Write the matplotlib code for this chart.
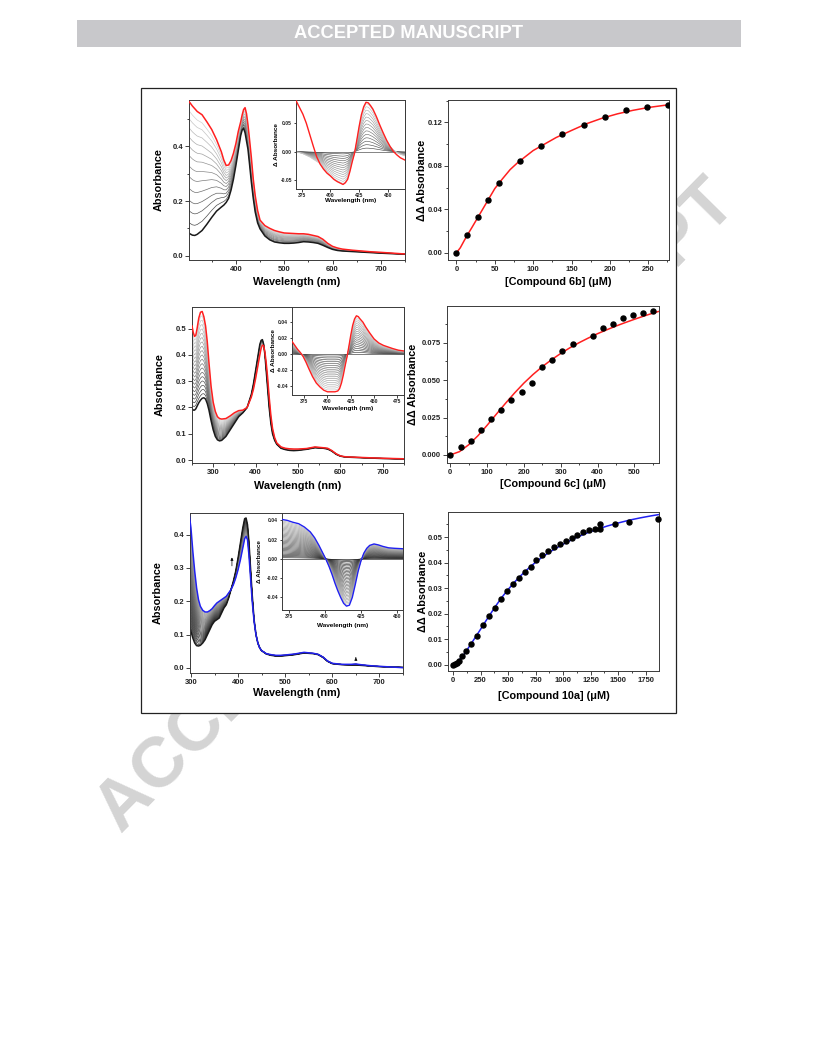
import numpy as np
import matplotlib
matplotlib.use("Agg")
import matplotlib.pyplot as plt
from matplotlib.ticker import MultipleLocator, FormatStrFormatter
from matplotlib.patches import Rectangle

# ---------------- data ----------------
# Panel A: compound 6b spectra (300-750 nm)
wl_6b = [300, 305, 310, 315, 320, 330, 340, 350, 360, 370, 375, 380, 385, 390, 395, 400, 405,
         410, 413, 416, 419, 422, 425, 428, 432, 436, 440, 445, 450, 460, 470, 480, 490, 500,
         510, 520, 530, 540, 550, 560, 570, 580, 590, 600, 610, 620, 640, 660, 680, 700, 725, 750]
abs_6b_start = [0.085, 0.080, 0.075, 0.074, 0.078, 0.092, 0.115, 0.140, 0.163, 0.178, 0.185, 0.195,
                0.21, 0.24, 0.28, 0.33, 0.385, 0.44, 0.46, 0.466, 0.45, 0.42, 0.39, 0.34, 0.27, 0.21,
                0.16, 0.12, 0.098, 0.072, 0.058, 0.050, 0.047, 0.045, 0.045, 0.046, 0.048, 0.051,
                0.050, 0.048, 0.045, 0.038, 0.030, 0.023, 0.019, 0.017, 0.015, 0.013, 0.011, 0.009,
                0.007, 0.005]
abs_6b_end = [0.57, 0.56, 0.548, 0.538, 0.528, 0.516, 0.49, 0.462, 0.425, 0.38, 0.35, 0.33, 0.332,
              0.348, 0.375, 0.41, 0.455, 0.49, 0.515, 0.535, 0.542, 0.52, 0.48, 0.43, 0.36, 0.28,
              0.22, 0.165, 0.13, 0.11, 0.10, 0.092, 0.087, 0.083, 0.082, 0.081, 0.080, 0.080, 0.078,
              0.074, 0.070, 0.060, 0.045, 0.034, 0.028, 0.024, 0.020, 0.017, 0.014, 0.012, 0.009, 0.006]
frac_6b = [0.08, 0.17, 0.25, 0.34, 0.43, 0.51, 0.59, 0.66, 0.73, 0.80, 0.87, 0.93]

# Inset A: difference spectra 6b
wl_d6b = [370, 373, 376, 379, 382, 385, 388, 391, 394, 397, 400, 403, 406, 409, 411, 413, 415, 417,
          419, 421, 423, 425, 427, 429, 431, 433, 435, 437, 440, 443, 446, 449, 452, 455, 458, 461, 465]
dabs_6b_end = [0.09, 0.078, 0.066, 0.05, 0.03, 0.01, -0.009, -0.022, -0.031, -0.038, -0.043, -0.049,
               -0.053, -0.056, -0.058, -0.055, -0.049, -0.035, -0.018, -0.003, 0.02, 0.044, 0.065,
               0.079, 0.087, 0.086, 0.081, 0.075, 0.062, 0.047, 0.033, 0.02, 0.009, 0.0, -0.006,
               -0.011, -0.015]
dabs_6b_gray = [-0.001, -0.002, -0.004, -0.007, -0.010, -0.014, -0.018, -0.022, -0.031, -0.038,
                -0.043, -0.049, -0.053, -0.056, -0.058, -0.055, -0.049, -0.035, -0.018, -0.003, 0.02,
                0.044, 0.065, 0.079, 0.087, 0.086, 0.081, 0.075, 0.062, 0.047, 0.033, 0.02, 0.01,
                0.003, -0.002, -0.005, -0.008]
dfrac_6b = [0.0, 0.07, 0.14, 0.21, 0.28, 0.35, 0.42, 0.49, 0.56, 0.63, 0.70, 0.77, 0.84, 0.91, 0.97]

# Panel B: titration 6b
conc_6b = [0, 13.8, 27.6, 41.4, 55.2, 82.8, 110.4, 138, 165.6, 193.2, 220.8, 248.4, 276]
ddA_6b = [0.0, 0.016, 0.0326, 0.0485, 0.0638, 0.0847, 0.098, 0.109, 0.1178, 0.1246, 0.1317, 0.1344, 0.1357]
fit_6b_x = [0, 5, 10, 15, 20, 30, 40, 50, 60, 70, 80, 90, 100, 115, 130, 150, 170, 190, 210, 230, 250, 270, 280]
fit_6b_y = [0.0, 0.0045, 0.011, 0.0172, 0.023, 0.035, 0.047, 0.059, 0.068, 0.0765, 0.083, 0.0885,
            0.094, 0.100, 0.106, 0.1125, 0.1188, 0.1238, 0.1278, 0.131, 0.1336, 0.1355, 0.1364]

# Panel C: compound 6c spectra (250-750 nm)
wl_6c = [250, 253, 256, 259, 262, 266, 270, 274, 278, 282, 286, 290, 295, 300, 305, 310, 315, 320,
         330, 340, 350, 360, 370, 380, 390, 395, 400, 405, 410, 413, 416, 419, 422, 425, 428, 432,
         436, 440, 445, 450, 460, 470, 480, 490, 500, 520, 540, 560, 570, 580, 590, 600, 610, 620,
         650, 700, 750]
abs_6c_start = [0.195, 0.19, 0.19, 0.195, 0.205, 0.218, 0.228, 0.235, 0.237, 0.232, 0.215, 0.19,
                0.15, 0.115, 0.09, 0.077, 0.073, 0.075, 0.09, 0.115, 0.14, 0.165, 0.18, 0.2, 0.25,
                0.29, 0.34, 0.39, 0.44, 0.455, 0.458, 0.44, 0.40, 0.34, 0.28, 0.20, 0.14, 0.10,
                0.075, 0.06, 0.045, 0.04, 0.037, 0.036, 0.037, 0.041, 0.047, 0.045, 0.042, 0.034,
                0.022, 0.015, 0.012, 0.011, 0.009, 0.006, 0.004]
abs_6c_end = [0.51, 0.485, 0.47, 0.475, 0.50, 0.54, 0.562, 0.565, 0.545, 0.51, 0.45, 0.37, 0.28,
              0.22, 0.185, 0.165, 0.158, 0.156, 0.158, 0.168, 0.18, 0.188, 0.19, 0.2, 0.24, 0.27,
              0.31, 0.355, 0.40, 0.425, 0.437, 0.435, 0.41, 0.37, 0.32, 0.24, 0.17, 0.12, 0.085,
              0.065, 0.05, 0.045, 0.043, 0.042, 0.042, 0.044, 0.05, 0.047, 0.045, 0.036, 0.024,
              0.016, 0.013, 0.012, 0.010, 0.007, 0.005]
frac_6c = [0.05, 0.10, 0.15, 0.20, 0.25, 0.30, 0.35, 0.40, 0.45, 0.50, 0.55, 0.60, 0.65, 0.70,
           0.75, 0.80, 0.85, 0.90, 0.95]

# Inset C: difference spectra 6c
wl_d6c = [362, 365, 368, 371, 374, 377, 380, 384, 388, 392, 396, 400, 404, 408, 411, 413, 415, 417,
          419, 421, 423, 425, 427, 429, 431, 433, 435, 438, 441, 445, 450, 455, 460, 465, 470, 476, 482]
dabs_6c_end = [0.016, 0.011, 0.006, 0.002, -0.003, -0.01, -0.018, -0.028, -0.036, -0.041, -0.045,
               -0.047, -0.047, -0.047, -0.046, -0.043, -0.036, -0.026, -0.014, -0.003, 0.01, 0.024,
               0.036, 0.044, 0.048, 0.047, 0.044, 0.04, 0.034, 0.027, 0.019, 0.014, 0.011, 0.009,
               0.007, 0.005, 0.004]
dfrac_6c = [0.0, 0.05, 0.10, 0.15, 0.20, 0.25, 0.30, 0.35, 0.40, 0.45, 0.50, 0.55, 0.60, 0.65,
            0.70, 0.75, 0.80, 0.85, 0.90, 0.95]

# Panel D: titration 6c
conc_6c = [0, 28, 55, 83, 111, 138, 166, 194, 221, 249, 277, 304, 332, 387, 414, 442, 469, 497, 524, 551]
ddA_6c = [0.0, 0.0054, 0.0094, 0.0166, 0.0238, 0.0301, 0.0368, 0.0422, 0.0478, 0.0586, 0.0636,
          0.0696, 0.0739, 0.0795, 0.0849, 0.0874, 0.0914, 0.0932, 0.0948, 0.0961]
fit_6c_x = [0, 25, 50, 75, 100, 125, 150, 175, 200, 225, 250, 275, 300, 325, 350, 375, 400, 425,
            450, 475, 500, 525, 550, 565]
fit_6c_y = [0.0, 0.0022, 0.0068, 0.0128, 0.0198, 0.0272, 0.0345, 0.0415, 0.048, 0.0538, 0.059,
            0.0636, 0.0678, 0.0716, 0.075, 0.0781, 0.081, 0.0836, 0.0861, 0.0884, 0.0906, 0.0927,
            0.0947, 0.0958]

# Panel E: compound 10a spectra (300-750 nm)
wl_10a = [296, 300, 304, 308, 312, 316, 320, 325, 330, 335, 340, 345, 350, 355, 360, 365, 370, 375,
          380, 385, 390, 395, 400, 405, 410, 414, 417, 420, 423, 426, 430, 434, 438, 442, 446, 450,
          460, 470, 480, 490, 500, 520, 540, 560, 570, 580, 590, 600, 620, 640, 650, 660, 680, 700,
          725, 750]
abs_10a_start = [0.13, 0.11, 0.09, 0.075, 0.067, 0.066, 0.068, 0.075, 0.085, 0.10, 0.115, 0.13,
                 0.14, 0.145, 0.15, 0.165, 0.18, 0.19, 0.21, 0.235, 0.26, 0.29, 0.33, 0.375, 0.42,
                 0.448, 0.45, 0.43, 0.38, 0.31, 0.22, 0.145, 0.10, 0.075, 0.06, 0.052, 0.042, 0.038,
                 0.036, 0.036, 0.037, 0.040, 0.045, 0.043, 0.040, 0.032, 0.020, 0.013, 0.010, 0.009,
                 0.009, 0.008, 0.006, 0.004, 0.003, 0.002]
abs_10a_end = [0.465, 0.42, 0.35, 0.29, 0.24, 0.205, 0.185, 0.173, 0.168, 0.168, 0.172, 0.178,
               0.187, 0.195, 0.20, 0.205, 0.21, 0.215, 0.225, 0.235, 0.25, 0.27, 0.295, 0.325,
               0.36, 0.388, 0.395, 0.385, 0.34, 0.28, 0.20, 0.14, 0.10, 0.075, 0.06, 0.052, 0.043,
               0.040, 0.038, 0.038, 0.039, 0.042, 0.047, 0.044, 0.041, 0.033, 0.021, 0.014, 0.011,
               0.011, 0.012, 0.010, 0.007, 0.005, 0.003, 0.001]
frac_10a = [0.03, 0.06, 0.09, 0.12, 0.15, 0.18, 0.21, 0.24, 0.27, 0.30, 0.33, 0.36, 0.39, 0.42,
            0.45, 0.48, 0.51, 0.54, 0.57, 0.60, 0.63, 0.66, 0.69, 0.72, 0.75, 0.78, 0.81, 0.84,
            0.87, 0.90, 0.93, 0.96]

# Inset E: difference spectra 10a
wl_d10a = [370, 374, 378, 382, 386, 390, 393, 396, 399, 401, 403, 405, 407, 409, 411, 413, 415, 417,
           419, 421, 423, 425, 427, 429, 431, 434, 437, 440, 444, 448, 454]
dabs_10a_end = [0.041, 0.04, 0.038, 0.0365, 0.033, 0.028, 0.022, 0.014, 0.005, -0.001, -0.008,
                -0.016, -0.025, -0.033, -0.04, -0.046, -0.049, -0.048, -0.04, -0.027, -0.013,
                -0.002, 0.006, 0.011, 0.014, 0.0155, 0.0145, 0.013, 0.0115, 0.011, 0.0105]
dfrac_10a = [0.0, 0.03, 0.06, 0.09, 0.12, 0.15, 0.18, 0.21, 0.24, 0.27, 0.30, 0.33, 0.36, 0.39,
             0.42, 0.45, 0.48, 0.51, 0.54, 0.57, 0.60, 0.63, 0.66, 0.69, 0.72, 0.75, 0.78, 0.81,
             0.84, 0.87, 0.90, 0.93, 0.96]

# Panel F: titration 10a
conc_10a = [0, 18, 36, 57, 81, 114, 165, 222, 276, 330, 384, 437, 491, 545, 599, 653, 707, 755,
            809, 863, 917, 971, 1025, 1079, 1130, 1181, 1235, 1286, 1339, 1339, 1468, 1594, 1858]
ddA_10a = [0.0, 0.0003, 0.0008, 0.0015, 0.0035, 0.0054, 0.0079, 0.0113, 0.0155, 0.0189, 0.022,
           0.0256, 0.0289, 0.0316, 0.034, 0.0364, 0.0383, 0.0408, 0.043, 0.0444, 0.0459, 0.0472,
           0.0483, 0.0496, 0.0509, 0.052, 0.0529, 0.0533, 0.0551, 0.0533, 0.0551, 0.0559, 0.057]
fit_10a_x = [0, 50, 100, 150, 200, 250, 300, 350, 400, 450, 500, 550, 600, 650, 700, 750, 800, 850,
             900, 1000, 1100, 1200, 1300, 1400, 1500, 1600, 1700, 1800, 1870]
fit_10a_y = [0.0, 0.0015, 0.004, 0.0072, 0.0105, 0.0138, 0.0172, 0.0205, 0.0237, 0.0267, 0.0294,
             0.0319, 0.0342, 0.0363, 0.0383, 0.0401, 0.0418, 0.0433, 0.0447, 0.0472, 0.0494,
             0.0513, 0.0529, 0.0543, 0.0555, 0.0566, 0.0575, 0.0583, 0.0588]

# ---------------- figure ----------------
W, H = 816, 1056
fig = plt.figure(figsize=(W / 100, H / 100), dpi=100)
plt.rcParams['font.family'] = ['Liberation Sans', 'DejaVu Sans']
plt.rcParams['font.weight'] = 'bold'
plt.rcParams['axes.linewidth'] = 0.7

SANS = ['Liberation Sans', 'DejaVu Sans']
RED = '#ff1f1f'
BLUE = '#2020f0'
BLK = '#1a1a1a'


def rect(l, t, r, b):
    return [l / W, 1 - b / H, (r - l) / W, (b - t) / H]


# header bar
fig.patches.append(Rectangle((77 / W, 1 - 47 / H), (741 - 77) / W, 27 / H,
                             transform=fig.transFigure, facecolor='#c8c8cb',
                             edgecolor='none', zorder=-1))
fig.text(409 / W, 1 - 34 / H, 'ACCEPTED MANUSCRIPT', color='white', fontsize=13.2,
         weight='bold', ha='center', va='center', family=SANS, zorder=-0.5)

# watermark
fig.text(418 / W, 1 - 508 / H, 'ACCEPTED MANUSCRIPT', rotation=45.5, color='#d4d4d4',
         fontsize=51, weight='bold', ha='center', va='center', rotation_mode='anchor',
         family=SANS, zorder=-3)

# white frame around figure
fig.patches.append(Rectangle((141 / W, 1 - 713 / H), (676 - 141) / W, (713 - 88) / H,
                             transform=fig.transFigure, facecolor='white',
                             edgecolor='#222222', lw=0.9, zorder=-2))


def style(ax, fs, maj=2.6, mnr=1.4, pad=1.5):
    for sp in ax.spines.values():
        sp.set_linewidth(0.7)
        sp.set_color('#3a3a3a')
    ax.tick_params(which='both', direction='out', width=0.6, labelsize=fs,
                   colors='#222222', pad=pad)
    ax.tick_params(which='major', length=maj)
    ax.tick_params(which='minor', length=mnr)


def labels(ax, xl, yl, fs, box, xl_top, yl_right):
    l, t, r, b = box
    ax.set_xlabel(xl, fontsize=fs, weight='bold')
    ax.set_ylabel(yl, fontsize=fs, weight='bold')
    ax.xaxis.set_label_coords(0.5, -(xl_top - b) / (b - t))
    ax.yaxis.set_label_coords(-(l - yl_right) / (r - l), 0.5)


def spectra(ax, wl, start, end, fracs, endc, g0, g1):
    s = np.asarray(start)
    e = np.asarray(end)
    n = len(fracs)
    for i, f in enumerate(fracs):
        g = g0 + (g1 - g0) * i / max(n - 1, 1)
        ax.plot(wl, s + f * (e - s), color=str(g), lw=0.5, zorder=1)
    ax.plot(wl, s, color=BLK, lw=1.1, zorder=2)
    ax.plot(wl, e, color=endc, lw=1.1, zorder=3)


def diffs(ax, wl, end, limit, fracs, endc, g0, g1):
    lim = np.asarray(limit)
    n = len(fracs)
    for i, f in enumerate(fracs):
        g = g0 + (g1 - g0) * i / max(n - 1, 1)
        ax.plot(wl, f * lim, color=str(g), lw=0.45, zorder=1)
    ax.plot(wl, end, color=endc, lw=1.0, zorder=3)


# ---- Panel A ----
bA = (189, 100, 405, 260)
ax = fig.add_axes(rect(*bA))
spectra(ax, wl_6b, abs_6b_start, abs_6b_end, frac_6b, RED, 0.3, 0.82)
ax.set_xlim(303, 750)
ax.set_ylim(-0.016, 0.57)
ax.xaxis.set_major_locator(MultipleLocator(100))
ax.xaxis.set_minor_locator(MultipleLocator(50))
ax.yaxis.set_major_locator(MultipleLocator(0.2))
ax.yaxis.set_minor_locator(MultipleLocator(0.1))
ax.yaxis.set_major_formatter(FormatStrFormatter('%.1f'))
style(ax, 5.5)
labels(ax, 'Wavelength (nm)', 'Absorbance', 7.8, bA, 277, 164)

bAi = (296, 100, 405, 189)
ai = fig.add_axes(rect(*bAi))
diffs(ai, wl_d6b, dabs_6b_end, dabs_6b_gray, dfrac_6b, RED, 0.25, 0.78)
ai.set_xlim(370, 465)
ai.set_ylim(-0.066, 0.091)
ai.xaxis.set_major_locator(MultipleLocator(25))
ai.yaxis.set_major_locator(MultipleLocator(0.05))
ai.yaxis.set_major_formatter(FormatStrFormatter('%.2f'))
style(ai, 3.6, maj=1.8, mnr=1.0, pad=1)
labels(ai, 'Wavelength (nm)', '\u0394 Absorbance', 4.6, bAi, 198, 279)

# ---- Panel B ----
bB = (448, 100, 669, 260)
ax = fig.add_axes(rect(*bB))
ax.plot(fit_6b_x, fit_6b_y, color=RED, lw=1.1, zorder=2)
ax.plot(conc_6b, ddA_6b, 'o', color='black', ms=3.6, zorder=3)
ax.set_xlim(-11, 277)
ax.set_ylim(-0.0067, 0.1405)
ax.xaxis.set_major_locator(MultipleLocator(50))
ax.xaxis.set_minor_locator(MultipleLocator(25))
ax.yaxis.set_major_locator(MultipleLocator(0.04))
ax.yaxis.set_minor_locator(MultipleLocator(0.02))
ax.yaxis.set_major_formatter(FormatStrFormatter('%.2f'))
style(ax, 5.5)
labels(ax, '[Compound 6b] (\u03bcM)', '\u0394\u0394 Absorbance', 7.8, bB, 277, 427)

# ---- Panel C ----
bC = (192, 307, 404, 463)
ax = fig.add_axes(rect(*bC))
spectra(ax, wl_6c, abs_6c_start, abs_6c_end, frac_6c, RED, 0.25, 0.8)
ax.set_xlim(250, 750)
ax.set_ylim(-0.011, 0.582)
ax.xaxis.set_major_locator(MultipleLocator(100))
ax.xaxis.set_minor_locator(MultipleLocator(50))
ax.yaxis.set_major_locator(MultipleLocator(0.1))
ax.yaxis.set_major_formatter(FormatStrFormatter('%.1f'))
style(ax, 5.5)
labels(ax, 'Wavelength (nm)', 'Absorbance', 7.8, bC, 481, 165)

bCi = (292, 307, 404, 395)
ai = fig.add_axes(rect(*bCi))
diffs(ai, wl_d6c, dabs_6c_end, dabs_6c_end, dfrac_6c, RED, 0.2, 0.78)
ai.set_xlim(362, 482)
ai.set_ylim(-0.051, 0.059)
ai.xaxis.set_major_locator(MultipleLocator(25))
ai.yaxis.set_major_locator(MultipleLocator(0.02))
ai.yaxis.set_major_formatter(FormatStrFormatter('%.2f'))
style(ai, 3.6, maj=1.8, mnr=1.0, pad=1)
labels(ai, 'Wavelength (nm)', '\u0394 Absorbance', 4.6, bCi, 406, 276)

# ---- Panel D ----
bD = (447, 306, 659, 463)
ax = fig.add_axes(rect(*bD))
ax.plot(fit_6c_x, fit_6c_y, color=RED, lw=1.1, zorder=2)
ax.plot(conc_6c, ddA_6c, 'o', color='black', ms=3.6, zorder=3)
ax.set_xlim(-9, 567)
ax.set_ylim(-0.0054, 0.0995)
ax.xaxis.set_major_locator(MultipleLocator(100))
ax.xaxis.set_minor_locator(MultipleLocator(50))
ax.yaxis.set_major_locator(MultipleLocator(0.025))
ax.yaxis.set_minor_locator(MultipleLocator(0.0125))
ax.yaxis.set_major_formatter(FormatStrFormatter('%.3f'))
style(ax, 5.5)
labels(ax, '[Compound 6c] (\u03bcM)', '\u0394\u0394 Absorbance', 7.8, bD, 479, 418)

# ---- Panel E ----
bE = (190, 513, 403, 673)
ax = fig.add_axes(rect(*bE))
spectra(ax, wl_10a, abs_10a_start, abs_10a_end, frac_10a, BLUE, 0.12, 0.62)
ax.set_xlim(298, 750)
ax.set_ylim(-0.015, 0.465)
ax.xaxis.set_major_locator(MultipleLocator(100))
ax.xaxis.set_minor_locator(MultipleLocator(50))
ax.yaxis.set_major_locator(MultipleLocator(0.1))
ax.yaxis.set_major_formatter(FormatStrFormatter('%.1f'))
style(ax, 5.5)
labels(ax, 'Wavelength (nm)', 'Absorbance', 7.8, bE, 688, 163)
ax.annotate('', xy=(387, 0.34), xytext=(387, 0.298),
            arrowprops=dict(arrowstyle='-|>', lw=0.5, color='black', mutation_scale=4))
ax.annotate('', xy=(650, 0.04), xytext=(650, 0.022),
            arrowprops=dict(arrowstyle='-|>', lw=0.5, color='black', mutation_scale=4))

bEi = (282, 513, 403, 610)
ai = fig.add_axes(rect(*bEi))
diffs(ai, wl_d10a, dabs_10a_end, dabs_10a_end, dfrac_10a, BLUE, 0.1, 0.7)
ai.set_xlim(370.5, 454)
ai.set_ylim(-0.053, 0.0476)
ai.xaxis.set_major_locator(MultipleLocator(25))
ai.yaxis.set_major_locator(MultipleLocator(0.02))
ai.yaxis.set_major_formatter(FormatStrFormatter('%.2f'))
style(ai, 3.6, maj=1.8, mnr=1.0, pad=1)
labels(ai, 'Wavelength (nm)', '\u0394 Absorbance', 4.6, bEi, 623, 262)

# ---- Panel F ----
bF = (448, 512, 659, 671)
ax = fig.add_axes(rect(*bF))
ax.plot(fit_10a_x, fit_10a_y, color=BLUE, lw=1.1, zorder=2)
ax.plot(conc_10a, ddA_10a, 'o', color='black', ms=3.6, zorder=3, clip_on=False)
ax.set_xlim(-45, 1870)
ax.set_ylim(-0.0025, 0.0598)
ax.xaxis.set_major_locator(MultipleLocator(250))
ax.xaxis.set_minor_locator(MultipleLocator(125))
ax.yaxis.set_major_locator(MultipleLocator(0.01))
ax.yaxis.set_minor_locator(MultipleLocator(0.005))
ax.yaxis.set_major_formatter(FormatStrFormatter('%.2f'))
style(ax, 5.5)
labels(ax, '[Compound 10a] (\u03bcM)', '\u0394\u0394 Absorbance', 7.8, bF, 691, 428)

fig.savefig('out.png', dpi=100)
